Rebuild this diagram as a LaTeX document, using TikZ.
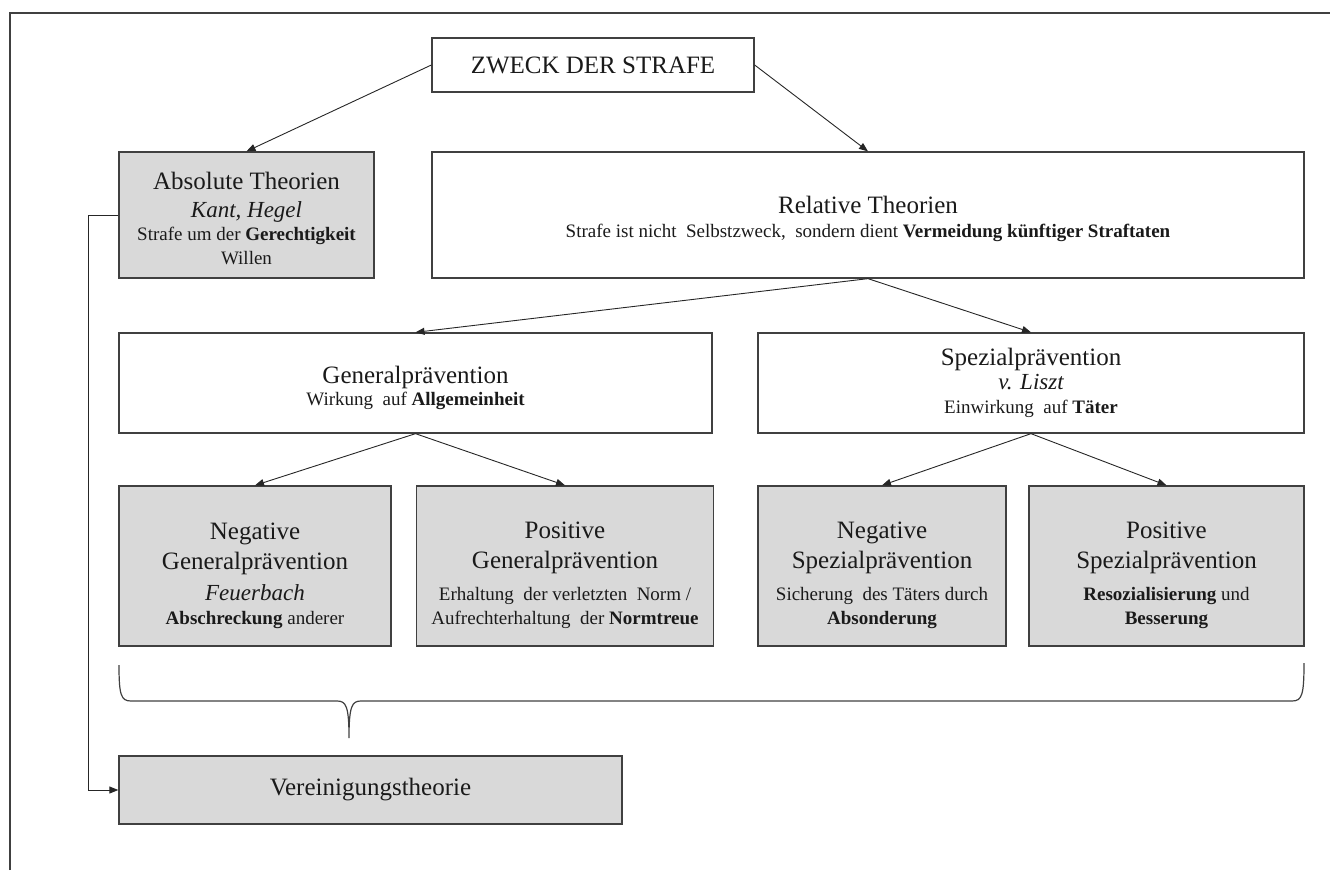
\documentclass[tikz,border=0pt]{standalone}
\usepackage{fontspec}
\setmainfont{Liberation Serif}
\usetikzlibrary{arrows.meta}
\definecolor{boxgrey}{HTML}{D9D9D9}
\definecolor{edge}{HTML}{404040}
\definecolor{txt}{HTML}{1A1A1A}
\newcommand{\ttl}{\fontsize{25}{29}\selectfont}
\newcommand{\nm}{\itshape\fontsize{23}{25}\selectfont}
\newcommand{\sm}{\fontsize{19}{24}\selectfont}
\newcommand{\lift}[1]{\rule{0pt}{#1}}
\tikzset{
  box/.style={draw=edge, line width=1.3pt, rectangle, align=center, inner sep=0pt, text=txt, font=\sm},
  greybox/.style={box, fill=boxgrey},
  arr/.style={draw=black!85, line width=0.9pt, -{Triangle[length=9pt,width=7pt]}},
}
\begin{document}
\begin{tikzpicture}[x=1pt,y=-1pt]
\useasboundingbox (0,0) rectangle (1330,870);
\draw[edge, line width=1.2pt] (10,870) -- (10,13) -- (1330,13);

\node[box, minimum width=322pt, minimum height=54pt] (zweck) at (593,65) {\ttl ZWECK DER STRAFE};
\node[greybox, minimum width=255pt, minimum height=126pt] (abs) at (246.5,215)
  {\ttl\lift{25pt}Absolute Theorien\\[4pt] \nm Kant, Hegel\\[-1pt] \sm Strafe um der \textbf{Gerechtigkeit}\\[0pt] \sm Willen};
\node[box, minimum width=872pt, minimum height=126pt] (rel) at (868,215)
  {\ttl\lift{26pt}Relative Theorien\\ \sm Strafe ist nicht\ \ Selbstzweck,\ \ sondern dient \textbf{Vermeidung künftiger Straftaten}};
\node[box, minimum width=593pt, minimum height=100pt] (gen) at (415.5,383)
  {\ttl\lift{28pt}Generalprävention\\[-2pt] \sm Wirkung\ \ auf \textbf{Allgemeinheit}};
\node[box, minimum width=546pt, minimum height=100pt] (spez) at (1031,383)
  {\ttl Spezialprävention\\ \nm v. Liszt\\ \sm Einwirkung\ \ auf \textbf{Täter}};

\node[greybox, minimum width=272pt, minimum height=160pt] (ng) at (255,566)
  {\ttl\lift{36pt}Negative\\[6pt] \ttl Generalprävention\\[7pt] \nm Feuerbach\\[0pt] \sm\textbf{Abschreckung} anderer};
\node[greybox, minimum width=297pt, minimum height=160pt] (pg) at (565,566)
  {\ttl\lift{36pt}Positive\\[6pt] \ttl Generalprävention\\[8pt] \sm Erhaltung\ \ der verletzten\ \ Norm /\\ \sm Aufrechterhaltung\ \ der \textbf{Normtreue}};
\node[greybox, minimum width=248pt, minimum height=160pt] (ns) at (882,566)
  {\ttl\lift{36pt}Negative\\[6pt] \ttl Spezialprävention\\[8pt] \sm Sicherung\ \ des Täters durch\\ \sm\textbf{Absonderung}};
\node[greybox, minimum width=275pt, minimum height=160pt] (ps) at (1166.5,566)
  {\ttl\lift{36pt}Positive\\[6pt] \ttl Spezialprävention\\[8pt] \sm\textbf{Resozialisierung} und\\ \sm\textbf{Besserung}};

\node[greybox, minimum width=503pt, minimum height=68pt] (ver) at (370.5,790) {\ttl Vereinigungstheorie};

\draw[arr] (zweck.west) -- (abs.north);
\draw[arr] (zweck.east) -- (rel.north);
\draw[arr] (rel.south) -- (gen.north);
\draw[arr] (rel.south) -- (spez.north);
\draw[arr] (gen.south) -- (ng.north);
\draw[arr] (gen.south) -- (pg.north);
\draw[arr] (spez.south) -- (ns.north);
\draw[arr] (spez.south) -- (ps.north);
\draw[arr] (abs.west) -- ++(-30,0) |- (ver.west);

\draw[edge, line width=1.2pt] (119,665) .. controls (119,695) and (121,701) .. (131,701) -- (337,701)
  .. controls (346,701) and (349,706) .. (349,738)
  .. controls (349,706) and (352,701) .. (361,701) -- (1292,701)
  .. controls (1302,701) and (1304,695) .. (1304,663);
\end{tikzpicture}
\end{document}
